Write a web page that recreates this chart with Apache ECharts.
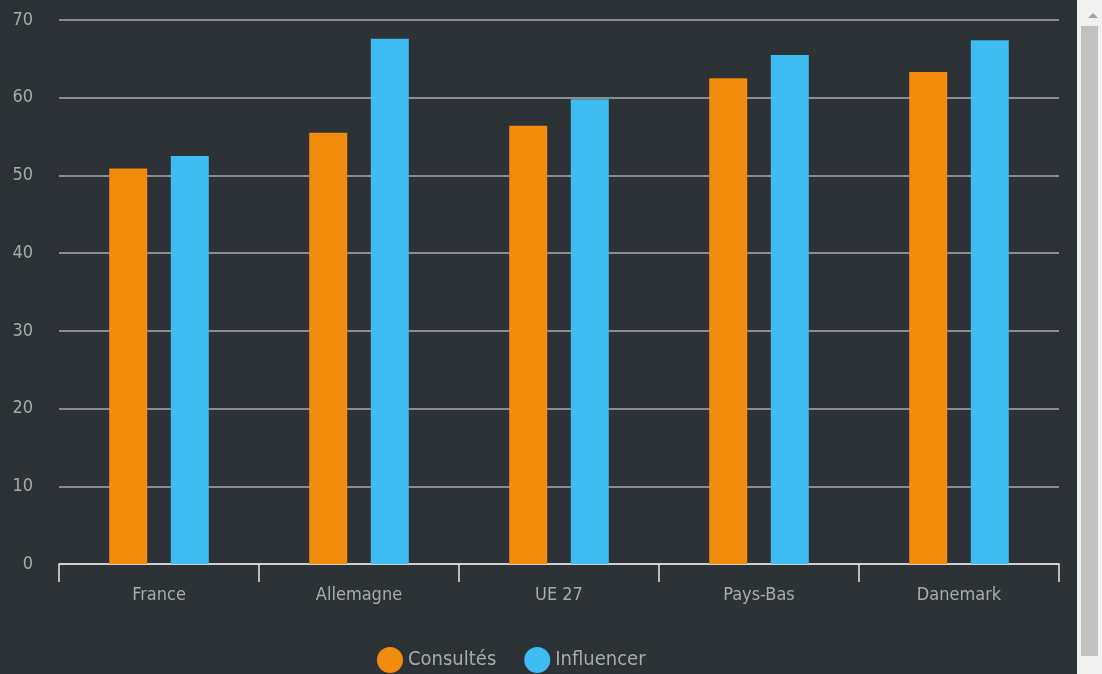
<!DOCTYPE html>
<html>
<head>
<meta charset="utf-8">
<script src="https://cdn.jsdelivr.net/npm/echarts@6/dist/echarts.min.js"></script>
<style>
html,body{margin:0;padding:0;background:#2d3236;overflow:hidden;}
#chart{position:absolute;left:0;top:0;width:1077px;height:674px;}
#track{position:absolute;left:1077px;top:0;width:25px;height:674px;background:#f1f1f1;}
#thumb{position:absolute;left:1081px;top:26px;width:17px;height:630px;background:#c1c1c1;}
#arrow{position:absolute;left:1088px;top:13px;width:0;height:0;border-left:5px solid transparent;border-right:5px solid transparent;border-bottom:5px solid #a3a3a3;}
</style>
</head>
<body>
<div id="chart"></div>
<div id="track"></div>
<div id="thumb"></div>
<div id="arrow"></div>
<script>
const categories = ['France', 'Allemagne', 'UE 27', 'Pays-Bas', 'Danemark'];
const consultes = [50.9, 55.5, 56.4, 62.5, 63.3];
const influencer = [52.5, 67.6, 59.8, 65.5, 67.4];
const seriesNames = ['Consultés', 'Influencer'];

const FONT = '"DejaVu Sans Condensed", "Liberation Sans Narrow", "Roboto", sans-serif';
const chart = echarts.init(document.getElementById('chart'), null, {renderer: 'canvas'});
chart.setOption({
  backgroundColor: '#2d3236',
  animation: false,
  textStyle: {fontFamily: FONT},
  grid: {left: 59, right: 18, top: 20, bottom: 110},
  legend: {
    data: seriesNames,
    top: 642,
    left: 372,
    icon: 'circle',
    itemWidth: 26,
    itemHeight: 26,
    itemGap: 28,
    textStyle: {color: '#a6abae', fontSize: 20, fontFamily: FONT}
  },
  xAxis: {
    type: 'category',
    data: categories,
    axisLine: {lineStyle: {color: '#e6e6e6', width: 1.5}},
    axisTick: {show: true, length: 18, lineStyle: {color: '#e6e6e6', width: 1.5}},
    axisLabel: {color: '#a6abae', fontSize: 18, margin: 22, fontFamily: FONT}
  },
  yAxis: {
    type: 'value',
    min: 0, max: 70, interval: 10,
    axisLine: {show: false},
    axisTick: {show: false},
    axisLabel: {color: '#a6abae', fontSize: 18, margin: 26, fontFamily: FONT},
    splitLine: {lineStyle: {color: '#a9adb0', width: 1.5}}
  },
  series: [
    {name: seriesNames[0], type: 'bar', data: consultes, barWidth: 38, barGap: '62%', itemStyle: {color: '#f28c0c'}},
    {name: seriesNames[1], type: 'bar', data: influencer, barWidth: 38, itemStyle: {color: '#3dbdf1'}}
  ]
});
</script>
</body>
</html>
